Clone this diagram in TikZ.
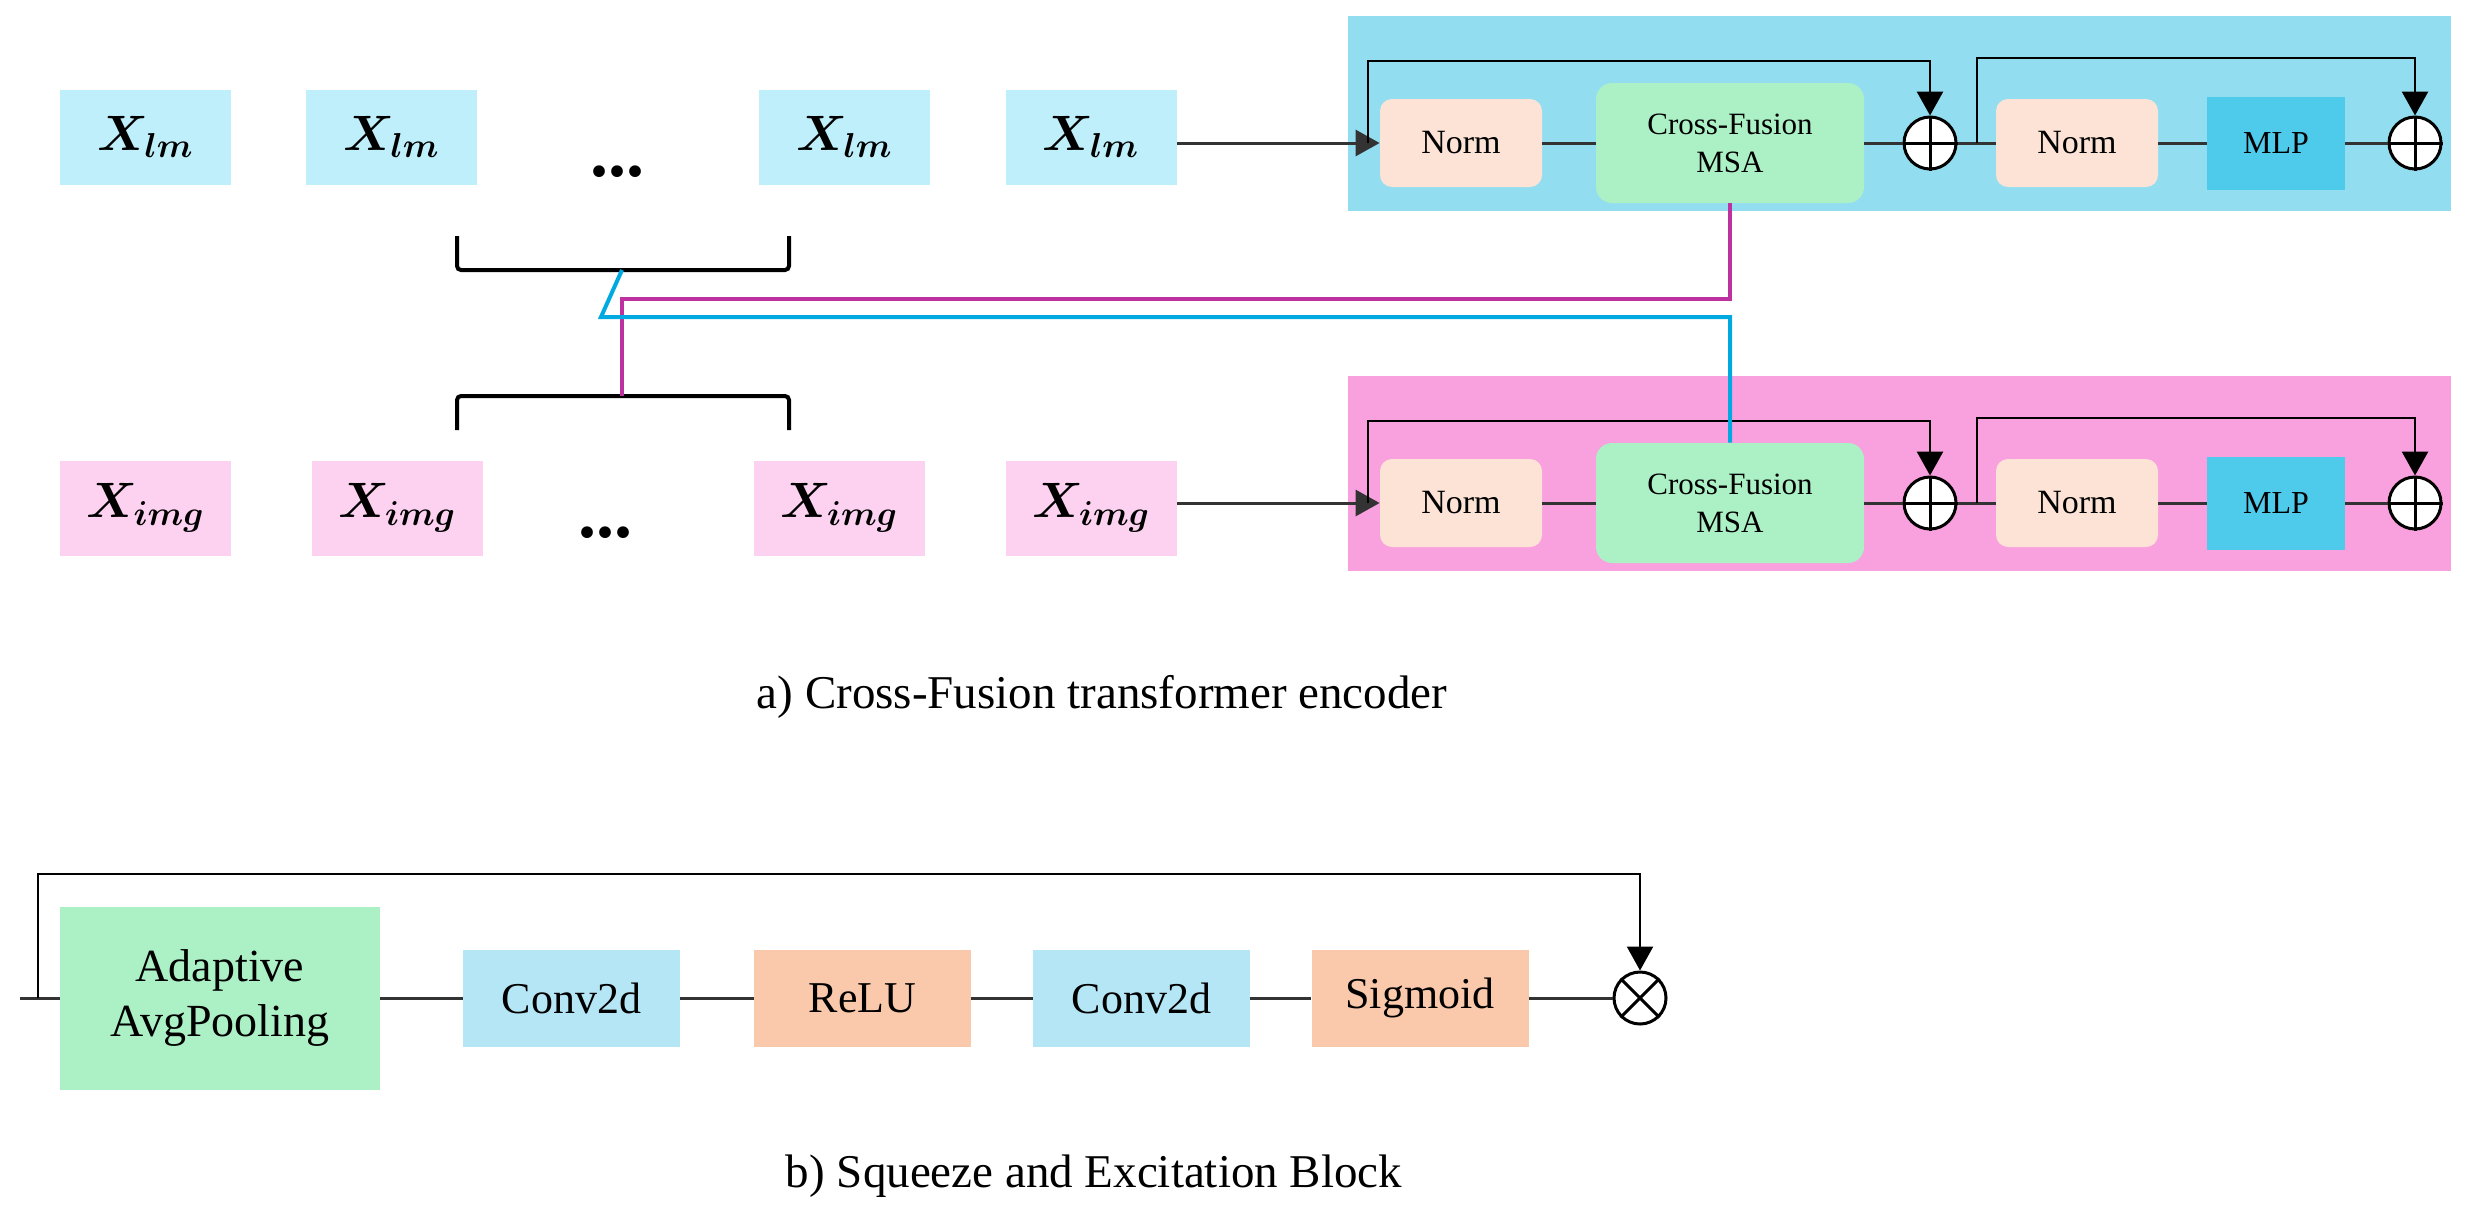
\documentclass[tikz,border=0pt]{standalone}
\usepackage[dvipsnames,svgnames,x11names]{xcolor}
\usepackage{amsmath,bm}
\usepackage{fontspec}
\setmainfont{Liberation Serif}
\usetikzlibrary{arrows.meta}

\definecolor{lmbox}{RGB}{190,239,251}
\definecolor{imgbox}{RGB}{252,210,240}
\definecolor{lmblock}{RGB}{146,222,240}
\definecolor{imgblock}{RGB}{249,160,222}
\definecolor{normfill}{RGB}{253,227,213}
\definecolor{msafill}{RGB}{172,240,198}
\definecolor{mlpfill}{RGB}{78,203,234}
\definecolor{convfill}{RGB}{181,230,245}
\definecolor{relufill}{RGB}{250,200,170}
\definecolor{lmline}{RGB}{0,170,225}
\definecolor{imgline}{RGB}{190,50,160}

\tikzset{
    xbox/.style={minimum width=85.5pt, minimum height=47.5pt, inner sep=0pt,
        font=\fontsize{24}{28}\selectfont},
    dotsnode/.style={anchor=base, inner sep=0pt, font=\fontsize{36}{40}\selectfont\bfseries},
    normbox/.style={fill=normfill, rounded corners=6pt, minimum width=81pt,
        minimum height=44pt, inner sep=0pt, font=\fontsize{17}{20}\selectfont},
    msabox/.style={fill=msafill, rounded corners=8pt, minimum width=134pt,
        minimum height=60pt, inner sep=0pt, align=center,
        font=\fontsize{15.5}{19}\selectfont},
    mlpbox/.style={fill=mlpfill, minimum width=69pt, minimum height=46.5pt,
        inner sep=0pt, font=\fontsize{16}{19}\selectfont},
    addnode/.style={circle, draw, fill=white, line width=1.5pt, minimum size=26pt,
        inner sep=0pt},
    sebox/.style={minimum width=108.5pt, minimum height=48.5pt, inner sep=0pt,
        font=\fontsize{22}{27}\selectfont},
    wire/.style={line width=1.5pt, draw=black!80},
    skipwire/.style={line width=1.4pt, draw=black, -{Triangle[length=12pt,width=13pt]}},
    bracket/.style={line width=2pt, rounded corners=2pt},
    caption/.style={anchor=base, font=\fontsize{23.5}{28}\selectfont},
}

\begin{document}
\begin{tikzpicture}[x=0.5pt, y=-0.5pt]
    \useasboundingbox (0,0) rectangle (2466,1216);

    \foreach \i/\x in {1/145.5, 2/391.5, 3/844.5, 4/1091}
        \node[xbox, fill=lmbox] (xa\i) at (\x,137) {$\bm{X_{lm}}$};
    \foreach \i/\x in {1/145.5, 2/397, 3/839, 4/1091}
        \node[xbox, fill=imgbox] (xb\i) at (\x,508) {$\bm{X_{img}}$};
    \node[dotsnode] (da) at (617,176) {...};
    \node[dotsnode] (db) at (605,537) {...};

    \foreach \row/\off/\bg in {a/0/lmblock, b/360/imgblock} {
        \fill[\bg] (1348,{16+\off}) rectangle (2451,{211+\off});
        \node[normbox] (n\row1) at (1461,{143+\off}) {Norm};
        \node[msabox] (m\row) at (1730,{143+\off}) {Cross-Fusion\\MSA};
        \node[addnode] (p\row1) at (1930,{143+\off}) {};
        \node[normbox] (n\row2) at (2077,{143+\off}) {Norm};
        \node[mlpbox] (l\row) at (2276,{143+\off}) {MLP};
        \node[addnode] (p\row2) at (2415,{143+\off}) {};
        \draw[line width=1.5pt] (p\row1.north) -- (p\row1.south) (p\row1.west) -- (p\row1.east)
            (p\row2.north) -- (p\row2.south) (p\row2.west) -- (p\row2.east);
        \draw[wire] (n\row1) -- (m\row) (m\row) -- (p\row1) (p\row1) -- (n\row2)
            (n\row2) -- (l\row) (l\row) -- (p\row2);
        \draw[wire, -{Triangle[length=12pt,width=13pt]}] (x\row4.east |- n\row1.west) -- (n\row1.west);
        \coordinate (s\row1) at (1368,{143+\off});
        \coordinate (s\row2) at (1977,{143+\off});
        \draw[skipwire] (s\row1) -- ++(0,-82) -| (p\row1.north);
        \draw[skipwire] (s\row2) -- ++(0,-85) -| (p\row2.north);
    }

    \coordinate (bt) at (622,270);
    \coordinate (bb) at (622,396);
    \draw[bracket] (457,236) -- (457,270) -- (789,270) -- (789,236);
    \draw[bracket] (457,430) -- (457,396) -- (789,396) -- (789,430);
    \draw[imgline, line width=2pt] (ma.south) -- ++(0,96) -| (bb);
    \draw[lmline, line width=2pt] (bt) -- ++(-21,47) -| (mb.north);

    \node[caption] (capa) at (1102,708) {a) Cross-Fusion transformer encoder};

    \coordinate (sein) at (20,998);
    \coordinate (seskip) at (38,998);
    \node[sebox, fill=msafill, minimum width=160pt, minimum height=91.5pt, align=center,
        font=\fontsize{23}{27.5}\selectfont] (pool) at (220,998) {Adaptive\\AvgPooling};
    \node[sebox, fill=convfill] (conva) at (571.5,998) {Conv2d};
    \node[sebox, fill=relufill] (relu) at (862.5,998) {ReLU};
    \node[sebox, fill=convfill] (convb) at (1141.5,998) {Conv2d};
    \node[sebox, fill=relufill] (sigm) at (1420,998) {Sigmoid};
    \node[addnode] (mul) at (1640,998) {};
    \draw[line width=1.5pt] (mul.north west) -- (mul.south east) (mul.north east) -- (mul.south west);
    \draw[wire] (sein) -- (pool) (pool) -- (conva) (conva) -- (relu) (relu) -- (convb)
        (convb) -- (sigm) (sigm) -- (mul);
    \draw[skipwire, line width=1.2pt] (seskip) -- ++(0,-124) -| (mul.north);

    \node[caption] (capb) at (1094,1187) {b) Squeeze and Excitation Block};
\end{tikzpicture}
\end{document}
